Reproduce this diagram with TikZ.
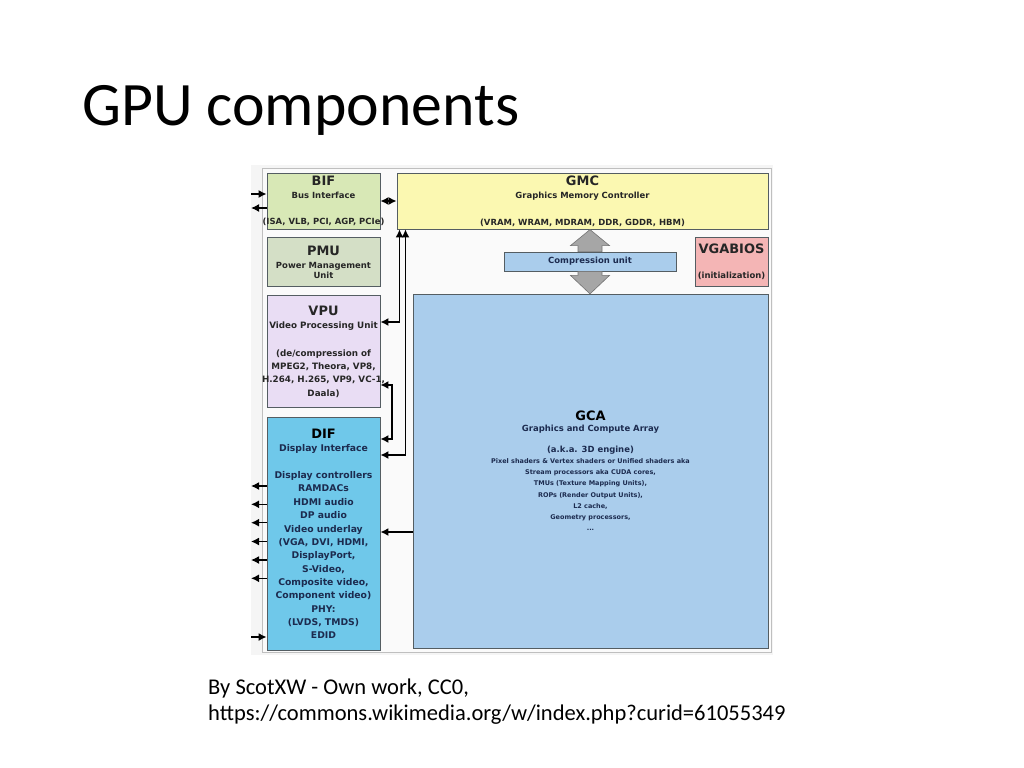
\documentclass[tikz,border=0pt]{standalone}
\usepackage{fontspec}
\setmainfont{Carlito}
\newfontfamily\dejafont{DejaVu Sans}
\usetikzlibrary{shapes.geometric,arrows,arrows.meta,positioning}

\definecolor{bifcol}{HTML}{D8E8B6}
\definecolor{pmucol}{HTML}{D4DFC6}
\definecolor{vpucol}{HTML}{E9DDF4}
\definecolor{difcol}{HTML}{6FC8EA}
\definecolor{gmccol}{HTML}{FBF8B1}
\definecolor{gcacol}{HTML}{AACDEC}
\definecolor{biocol}{HTML}{F4B5B5}
\definecolor{navy}{HTML}{1C2B4F}
\definecolor{edge}{HTML}{545D62}

\newcommand{\btitle}[1]{{\fontsize{13}{13}\selectfont #1}}
\newcommand{\gsmall}[1]{{\fontsize{6.5}{6.5}\selectfont #1}}

\tikzset{
  box/.style={draw=edge, line width=0.8bp, align=center, inner sep=0pt,
    text=black!85, font=\dejafont\bfseries\fontsize{8.5}{13.4}\selectfont},
  link/.style={line width=1.5bp, >={Latex[length=8bp,width=8bp]}},
  garrow/.style={fill=black!35, draw=black!55, line width=0.6bp},
}

\begin{document}
\begin{tikzpicture}[x=1bp,y=-1bp]
\useasboundingbox (0,0) rectangle (1024,768);
\fill[white] (0,0) rectangle (1024,768);

\node[anchor=base west,inner sep=0,font=\fontsize{62}{62}\selectfont] (title) at (82,125) {GPU components};

\fill[black!4] (251,165) rectangle (773,655);
\draw[black!25,fill=black!2] (262,168) rectangle (771,652);

% left column
\node[box,fill=bifcol,minimum width=113bp,minimum height=56bp] (bif) at (323.5,201)
  {\btitle{BIF}\\ Bus Interface\\[13pt] \makebox[0pt]{(ISA, VLB, PCI, AGP, PCIe)}};
\node[box,fill=pmucol,minimum width=113bp,minimum height=49bp,below=8bp of bif] (pmu)
  {\btitle{PMU}\\ Power Management\\[-3.4pt] Unit};
\node[box,fill=vpucol,minimum width=113bp,minimum height=112bp,below=8bp of pmu,
  font=\dejafont\bfseries\fontsize{8.8}{13.4}\selectfont] (vpu)
  {\btitle{VPU}\\ Video Processing Unit\\[14.5pt] (de/compression of\\ MPEG2, Theora, VP8,\\
   \makebox[0pt]{H.264, H.265, VP9, VC-1,}\\ Daala)};
\node[box,fill=difcol,text=navy,minimum width=113bp,minimum height=233bp,below=9bp of vpu,
  font=\dejafont\bfseries\fontsize{9.3}{13.4}\selectfont] (dif)
  {\btitle{\color{black}DIF}\\ Display Interface\\[13.5pt] Display controllers\\ RAMDACs\\ HDMI audio\\
   DP audio\\ Video underlay\\ (VGA, DVI, HDMI,\\ DisplayPort,\\ S-Video,\\ Composite video,\\
   Component video)\\ PHY:\\ (LVDS, TMDS)\\ EDID};

% right part
\node[box,fill=gmccol,minimum width=371bp,minimum height=56bp] (gmc) at (582.5,201)
  {\btitle{GMC}\\ Graphics Memory Controller\\[13pt] (VRAM, WRAM, MDRAM, DDR, GDDR, HBM)};
\node[box,fill=gcacol,text=navy,minimum width=172bp,minimum height=19bp] (comp) at (590,261.5)
  {Compression unit};
\node[box,fill=biocol,minimum width=73bp,minimum height=49bp] (vgabios) at (731.5,261.5)
  {\btitle{VGABIOS}\\[12pt] (initialization)};
\node[box,fill=gcacol,text=navy,minimum width=355bp,minimum height=354bp] (gca) at (590.5,471)
  {\btitle{\color{black}GCA}\\[-2.5pt] Graphics and Compute Array\\[7.3pt] (a.k.a. 3D engine)\\[-2.1pt]
   \gsmall{Pixel shaders \& Vertex shaders or Unified shaders aka}\\[-2.1pt]
   \gsmall{Stream processors aka CUDA cores,}\\[-2.1pt]
   \gsmall{TMUs (Texture Mapping Units),}\\[-2.1pt]
   \gsmall{ROPs (Render Output Units),}\\[-2.1pt]
   \gsmall{L2 cache,}\\[-2.1pt]
   \gsmall{Geometry processors,}\\[-2.1pt]
   \gsmall{...}};

% gray arrows round the compression unit
\draw[garrow] (comp.north) +(-12,0) -- +(-12,-6) -- +(-19.5,-6) -- +(0,-22) -- +(19.5,-6)
  -- +(12,-6) -- +(12,0) -- cycle;
\draw[garrow] (comp.south) +(-12,0) -- +(-12,4) -- +(-19.5,4) -- +(0,22.5) -- +(19.5,4)
  -- +(12,4) -- +(12,0) -- cycle;

% connectors
\coordinate (busin) at (251,194);
\coordinate (busout) at (251,208);
\draw[link,->] (busin) -- (busin -| bif.west);
\draw[link,->] (busout -| bif.west) -- (busout);
\draw[link,<->] (bif) -- (gmc);

\coordinate (v1) at (399.5,322);
\coordinate (d1) at (405.5,455);
\draw[link,<->] (gmc.south -| v1) -- (v1) -- (v1 -| vpu.east);
\draw[link,<->] (gmc.south -| d1) -- (d1) -- (d1 -| dif.east);

\coordinate (vd1) at (392,385);
\coordinate (vd2) at (392,439);
\draw[link,<->] (vd1 -| vpu.east) -- (vd1) -- (vd2) -- (vd2 -| dif.east);

\coordinate (gd) at (413,532);
\draw[link,->] (gca.west |- gd) -- (gd -| dif.east);

\foreach \y [count=\i] in {486,504.3,522.7,541.5,560,578.3} {
\coordinate (out\i) at (251,\y);
\draw[link,->] (out\i -| dif.west) -- (out\i);}
\coordinate (edid) at (251,637);
\draw[link,->] (edid) -- (edid -| dif.west);

\node[anchor=north west,align=left,inner sep=0,font=\fontsize{22.6}{26.5}\selectfont] (credit) at (208,678.5)
  {By ScotXW - Own work, CC0,\\ https://commons.wikimedia.org/w/index.php?curid=61055349};
\end{tikzpicture}
\end{document}
